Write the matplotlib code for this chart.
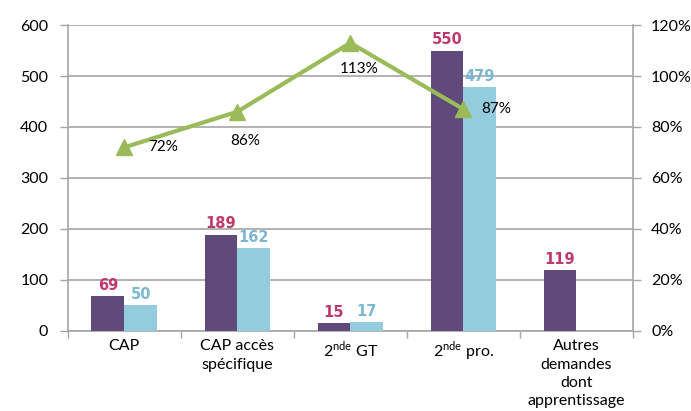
import numpy as np
import matplotlib.pyplot as plt

plt.rcParams['font.family'] = ['Lato', 'DejaVu Sans']
plt.rcParams['mathtext.fontset'] = 'custom'
plt.rcParams['mathtext.rm'] = 'Lato'

# data
categories = ['CAP', 'CAP accès\nspécifique', '2$^{\\mathrm{nde}}$ GT',
              '2$^{\\mathrm{nde}}$ pro.', 'Autres\ndemandes\ndont\napprentissage']
demandes = [69, 189, 15, 550, 119]
admis = [50, 162, 17, 479, None]
taux = [72, 86, 113, 87]
taux_offsets = [(17, 0), (6, -21), (6, -19), (13, 0)]

purple = '#604A7B'
blue = '#93CDDD'
green = '#9BBB59'
grid_c = '#A6A6A6'

fig = plt.figure(figsize=(6.91, 4.11), dpi=100)
ax = fig.add_axes([0.098, 0.195, 0.818, 0.744])

x = np.arange(len(categories))
w = 0.29
ax.bar(x[:5] - w / 2, demandes, w, color=purple, zorder=3)
adm_x = [x[i] + w / 2 for i in range(5) if admis[i] is not None]
adm_v = [v for v in admis if v is not None]
ax.bar(adm_x, adm_v, w, color=blue, zorder=3)

for i, v in enumerate(demandes):
    ax.text(x[i] - w / 2, v + 6, str(v), ha='center', va='bottom', color='#C0396B',
            fontsize=10.5, fontweight='bold', family='DejaVu Sans', zorder=5)
for xi, v in zip(adm_x, adm_v):
    ax.text(xi, v + 6, str(v), ha='center', va='bottom', color='#7AB8D1',
            fontsize=10.5, fontweight='bold', family='DejaVu Sans', zorder=5)

ax.set_xlim(-0.5, 4.5)
ax.set_ylim(0, 600)
ax.set_yticks(range(0, 601, 100))
ax.set_xticks(x)
ax.set_xticklabels(categories, fontsize=11.5, linespacing=1.4)
ax.set_xticks(np.arange(-0.5, 5, 1), minor=True)
ax.tick_params(axis='x', which='major', length=0, pad=6)
ax.tick_params(axis='x', which='minor', length=5, color=grid_c, width=1)
ax.tick_params(axis='y', length=6, color=grid_c, width=1, labelsize=11.5, pad=8)
ax.grid(axis='y', color=grid_c, linewidth=1.2, zorder=0)
for s in ['top', 'right']:
    ax.spines[s].set_visible(False)
ax.spines['left'].set_color(grid_c)
ax.spines['bottom'].set_color(grid_c)
ax.spines['left'].set_linewidth(1.2)
ax.spines['bottom'].set_linewidth(1.2)

ax2 = ax.twinx()
ax2.set_ylim(0, 120)
ax2.set_yticks(range(0, 121, 20))
ax2.set_yticklabels([f'{t}%' for t in range(0, 121, 20)])
ax2.tick_params(axis='y', length=6, color=grid_c, width=1, labelsize=11.5, pad=7)
for s in ['top', 'left', 'bottom']:
    ax2.spines[s].set_visible(False)
ax2.spines['right'].set_color(grid_c)
ax2.spines['right'].set_linewidth(1.2)

ax2.plot(x[:4], taux, color=green, linewidth=3, marker='^', markersize=11, zorder=4)
for i, (t, off) in enumerate(zip(taux, taux_offsets)):
    ax2.annotate(f'{t}%', (x[i], t), xytext=off, textcoords='offset points',
                 ha='left' if off[0] > 10 else 'center', va='center', fontsize=11,
                 color='black', zorder=6)

fig.savefig('out.png', dpi=100)
